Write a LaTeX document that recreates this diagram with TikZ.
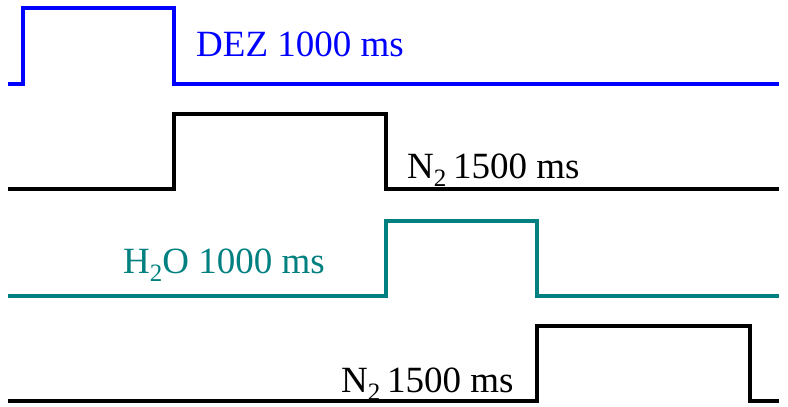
\documentclass[tikz,border=0pt]{standalone}
\usepackage{fontspec}
\setmainfont{Liberation Serif}
\definecolor{dezblue}{RGB}{0,0,255}
\definecolor{waterteal}{RGB}{0,128,128}
\newcommand{\subtwo}{\raisebox{-0.22em}{\fontsize{25}{25}\selectfont 2}}
\begin{document}
\begin{tikzpicture}[x=1pt,y=-1pt,
  wave/.style={line width=4.5pt,line join=miter},
  lbl/.style={anchor=base west,inner sep=0pt,font=\fontsize{37}{40}\selectfont}]
\useasboundingbox (0,0) rectangle (788,407);
% DEZ pulse
\draw[wave,dezblue] (8,84) -- (23,84) -- (23,8) -- (174,8) -- (174,84) -- (779,84);
\node[lbl,text=dezblue] (dez) at (196,56) {DEZ 1000 ms};
% N2 purge 1
\draw[wave,black] (8,189) -- (174,189) -- (174,114) -- (386,114) -- (386,189) -- (779,189);
\node[lbl] (n2a) at (407,178) {N\subtwo\hspace{0.18em}1500 ms};
% H2O pulse
\draw[wave,waterteal] (8,296) -- (386,296) -- (386,221) -- (537,221) -- (537,296) -- (779,296);
\node[lbl,text=waterteal] (h2o) at (123,273) {H\subtwo O 1000 ms};
% N2 purge 2
\draw[wave,black] (8,401) -- (537,401) -- (537,326) -- (750,326) -- (750,401) -- (779,401);
\node[lbl] (n2b) at (341,392) {N\subtwo\hspace{0.18em}1500 ms};
\end{tikzpicture}
\end{document}
